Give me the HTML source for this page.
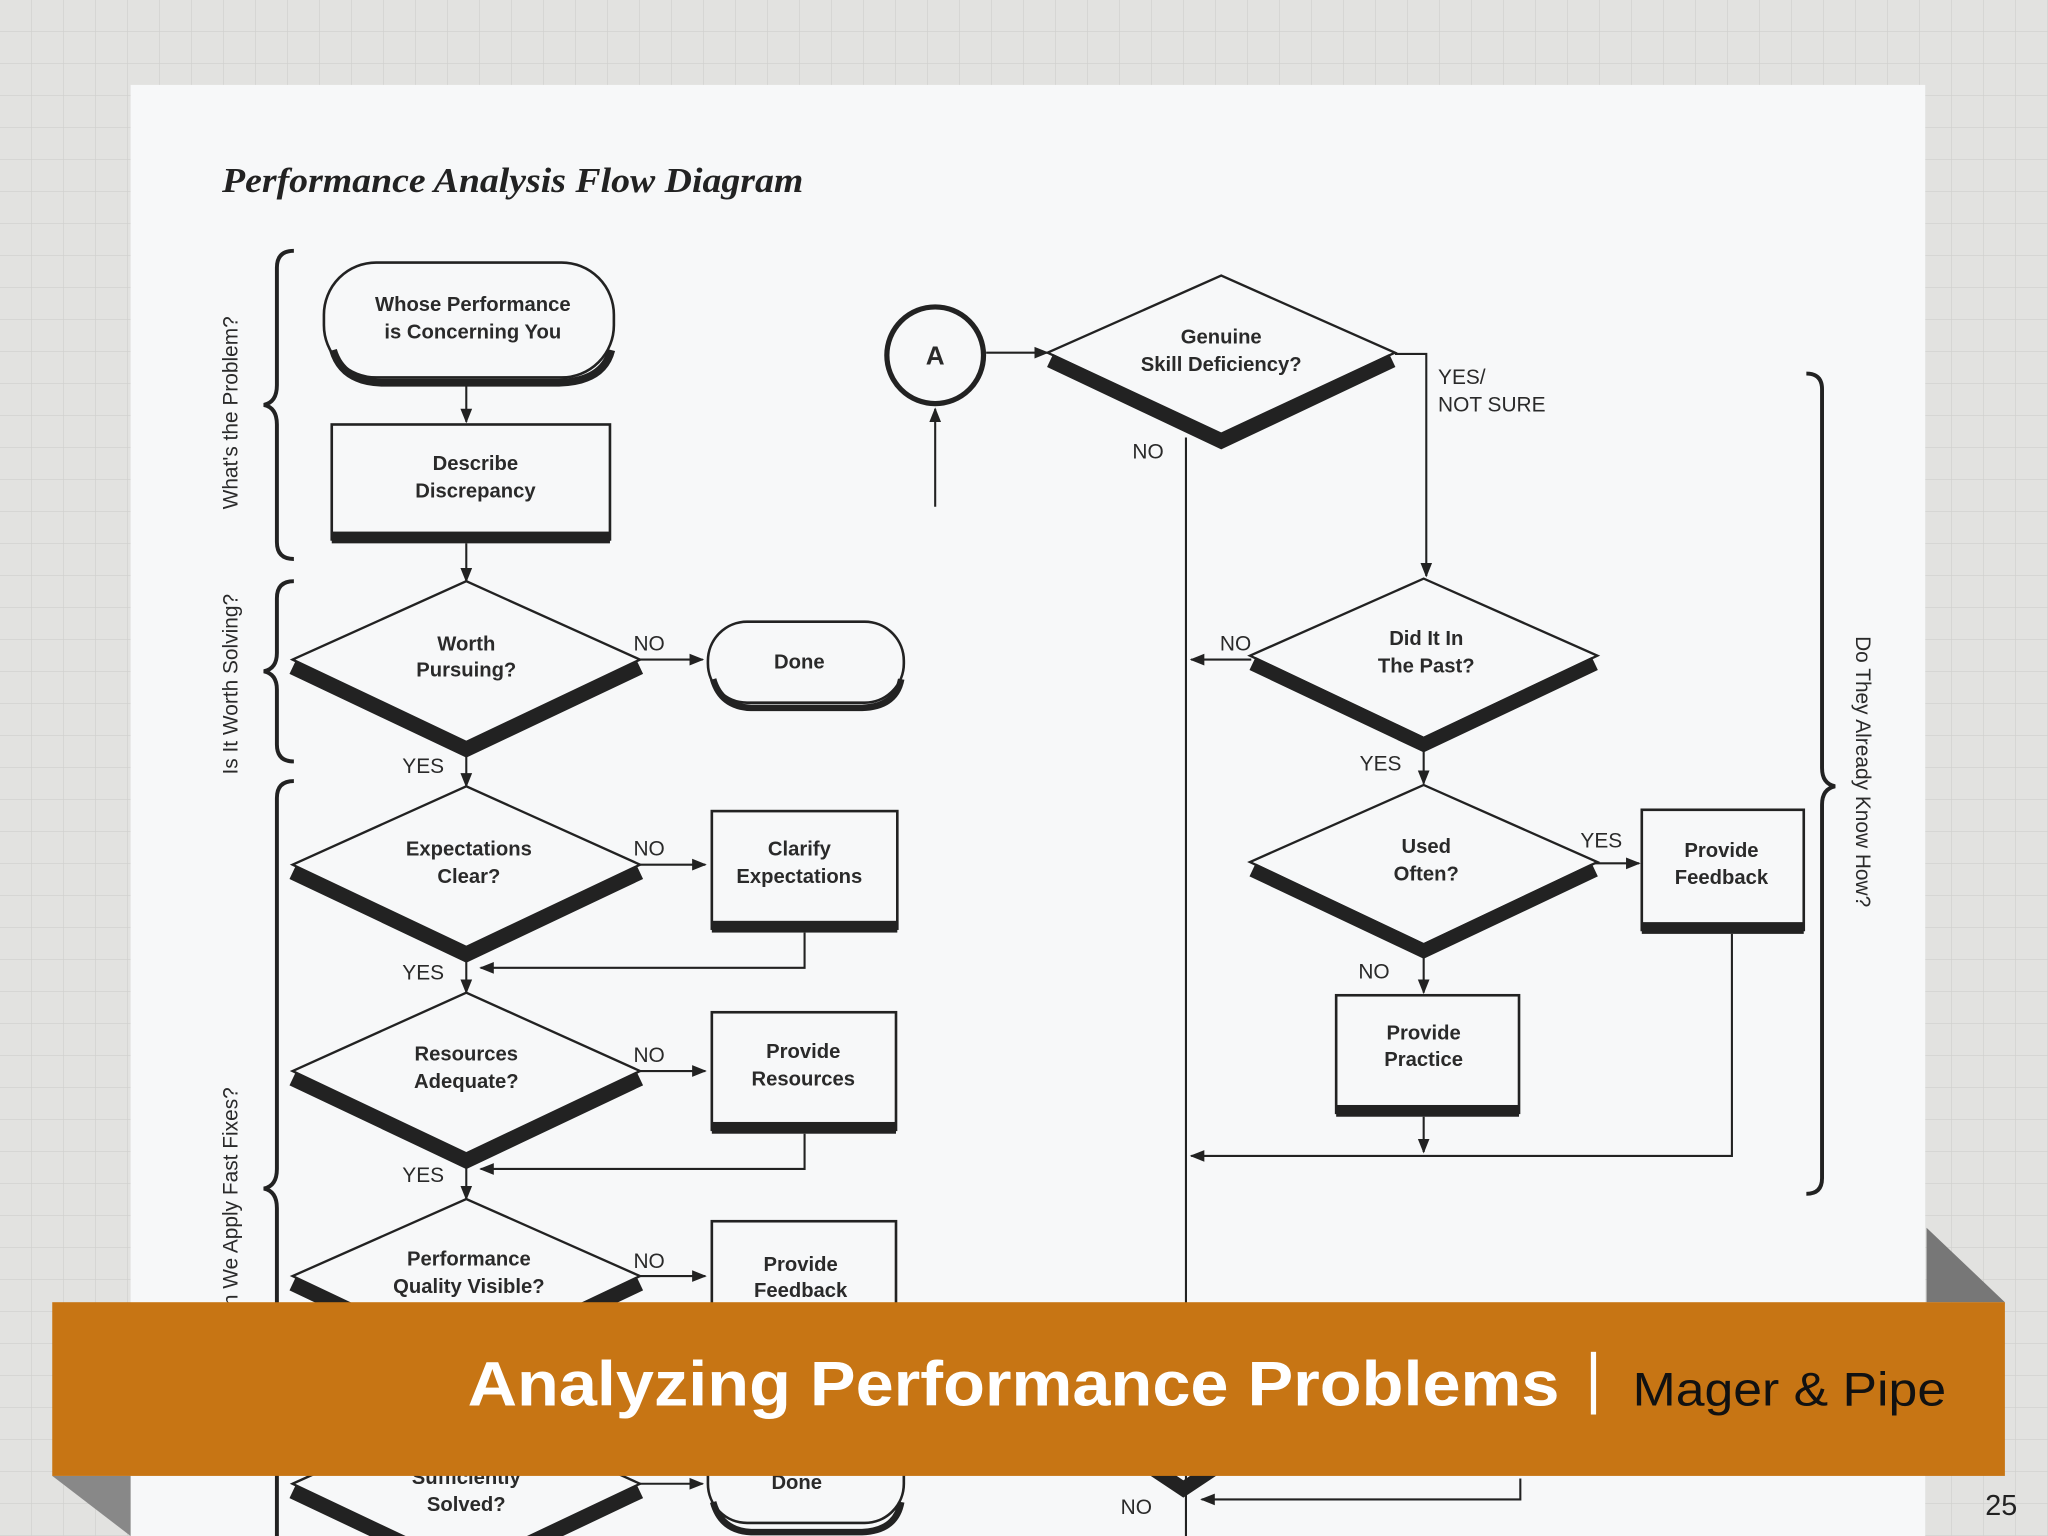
<!DOCTYPE html>
<html><head><meta charset="utf-8"><style>
html,body{margin:0;padding:0;width:2048px;height:1536px;overflow:hidden;background:#e4e4e2}
svg{display:block}
.t{font-family:"Liberation Sans",sans-serif;font-size:15.5px;fill:#2a2a2a;text-anchor:middle;font-weight:bold}
.l{font-family:"Liberation Sans",sans-serif;font-size:16px;fill:#2a2a2a}
</style></head><body>
<svg width="2048" height="1536" viewBox="0 0 1568 1176" xmlns="http://www.w3.org/2000/svg">
<defs>
<pattern id="g" width="24.5" height="24.5" patternUnits="userSpaceOnUse">
<rect width="24.5" height="24.5" fill="#e2e2e0"/>
<path d="M24.5 0V24.5H0" fill="none" stroke="#cfcfcd" stroke-width="1"/>
</pattern>
<marker id="a" viewBox="0 0 10 10" refX="9" refY="5" markerWidth="7" markerHeight="7" orient="auto"><path d="M0 1L10 5L0 9z" fill="#222"/></marker>
</defs>
<rect width="1568" height="1176" fill="url(#g)"/>
<rect x="100" y="65" width="1374" height="1111" fill="#f7f8f9"/>
<polygon points="1475,940 1535,997 1475,997" fill="#777"/>
<polygon points="40,1130 100,1176 100,1130" fill="#888"/>
<text x="170" y="147" font-family="Liberation Serif,serif" font-style="italic" font-weight="bold" font-size="27" fill="#222" textLength="445" lengthAdjust="spacingAndGlyphs">Performance Analysis Flow Diagram</text>

<g fill="none" stroke="#222" stroke-width="3">
<path d="M225 192 Q212 192 212 205 V295 Q212 308 202 310 Q212 312 212 325 V415 Q212 428 225 428"/>
<path d="M225 445 Q212 445 212 458 V500 Q212 512 202 514 Q212 516 212 528 V570 Q212 583 225 583"/>
<path d="M225 598 Q212 598 212 611 V895 Q212 908 202 910 Q212 912 212 925 V1176"/>
<path d="M1383 286 Q1395 286 1395 298 V588 Q1395 600 1405 602 Q1395 604 1395 616 V902 Q1395 914 1383 914"/>
</g>
<text class="l" transform="translate(182,390) rotate(-90)" font-size="15">What's the Problem?</text>
<text class="l" transform="translate(182,593) rotate(-90)" font-size="15">Is It Worth Solving?</text>
<text class="l" transform="translate(182,1000) rotate(-90)" font-size="15">n We Apply Fast Fixes?</text>
<text class="l" transform="translate(1421,487) rotate(90)" font-size="15">Do They Already Know How?</text>

<g stroke="#222" stroke-width="1.6" fill="none">
<line x1="357" y1="292" x2="357" y2="323" marker-end="url(#a)"/>
<line x1="357" y1="416" x2="357" y2="445" marker-end="url(#a)"/>
<line x1="357" y1="578" x2="357" y2="602" marker-end="url(#a)"/>
<line x1="357" y1="735" x2="357" y2="760" marker-end="url(#a)"/>
<line x1="357" y1="893" x2="357" y2="918" marker-end="url(#a)"/>
<line x1="490" y1="505" x2="538" y2="505" marker-end="url(#a)"/>
<line x1="490" y1="662" x2="540" y2="662" marker-end="url(#a)"/>
<line x1="490" y1="820" x2="540" y2="820" marker-end="url(#a)"/>
<line x1="490" y1="977" x2="540" y2="977" marker-end="url(#a)"/>
<line x1="490" y1="1136" x2="538" y2="1136" marker-end="url(#a)"/>
<path d="M616 714 V741 H368" marker-end="url(#a)"/>
<path d="M616 868 V895 H368" marker-end="url(#a)"/>
<line x1="716" y1="388" x2="716" y2="313" marker-end="url(#a)"/>
<line x1="755" y1="270" x2="802" y2="270" marker-end="url(#a)"/>
<path d="M1068 271 H1092 V441" marker-end="url(#a)"/>
<line x1="908" y1="335" x2="908" y2="1176"/>
<line x1="958" y1="505" x2="912" y2="505" marker-end="url(#a)"/>
<line x1="1090" y1="572" x2="1090" y2="600" marker-end="url(#a)"/>
<line x1="1090" y1="730" x2="1090" y2="760" marker-end="url(#a)"/>
<line x1="1194" y1="661" x2="1255" y2="661" marker-end="url(#a)"/>
<line x1="1090" y1="855" x2="1090" y2="882" marker-end="url(#a)"/>
<path d="M1326 715 V885 H912" marker-end="url(#a)"/>
<path d="M1164 1132 V1148 H920" marker-end="url(#a)"/>
</g>

<g stroke="#222" fill="#f7f8f9">
<rect x="248" y="201" width="222" height="88" rx="40" stroke-width="2"/>
<path d="M255 268 Q262 292 292 293 H428 Q462 292 468 268" fill="none" stroke-width="6"/>
<rect x="542" y="476" width="150" height="62" rx="30" stroke-width="2"/>
<path d="M546 520 Q552 541 575 542 H660 Q686 541 690 520" fill="none" stroke-width="5"/>
<rect x="542" y="1100" width="150" height="66" rx="30" stroke-width="2"/>
<path d="M546 1150 Q552 1172 575 1173 H660 Q686 1172 690 1150" fill="none" stroke-width="5"/>
<circle cx="716" cy="272" r="37" stroke-width="4"/>
</g>

<g stroke="#222" stroke-width="2" fill="#f7f8f9">
<rect x="254" y="325" width="213" height="88"/>
<rect x="545" y="621" width="142" height="90"/>
<rect x="545" y="775" width="141" height="90"/>
<rect x="545" y="935" width="141" height="90"/>
<rect x="1257" y="620" width="124" height="92"/>
<rect x="1023" y="762" width="140" height="90"/>
</g>
<g fill="#222">
<rect x="254" y="407" width="213" height="9"/>
<rect x="545" y="705" width="142" height="9"/>
<rect x="545" y="859" width="141" height="9"/>
<rect x="1257" y="706" width="124" height="9"/>
<rect x="1023" y="846" width="140" height="9"/>
</g>

<g stroke="#222" fill="#f7f8f9">
<polygon points="224,505 357,445 490,505 357,568" stroke-width="1.8"/>
<polyline points="224,511 357,574 490,511" fill="none" stroke-width="11"/>
<polygon points="224,662 357,602 490,662 357,725" stroke-width="1.8"/>
<polyline points="224,668 357,731 490,668" fill="none" stroke-width="11"/>
<polygon points="224,820 357,760 490,820 357,883" stroke-width="1.8"/>
<polyline points="224,826 357,889 490,826" fill="none" stroke-width="11"/>
<polygon points="224,977 357,918 490,977 357,1040" stroke-width="1.8"/>
<polyline points="224,983 357,1046 490,983" fill="none" stroke-width="11"/>
<polygon points="224,1136 357,1076 490,1136 357,1199" stroke-width="1.8"/>
<polyline points="224,1142 357,1205 490,1142" fill="none" stroke-width="11"/>
<polygon points="802,270 935,211 1068,270 935,332" stroke-width="1.8"/>
<polyline points="804,276 935,338 1066,276" fill="none" stroke-width="11"/>
<polygon points="957,502 1090,443 1223,502 1090,565" stroke-width="1.8"/>
<polyline points="959,508 1090,570 1221,508" fill="none" stroke-width="11"/>
<polygon points="957,660 1090,601 1223,660 1090,723" stroke-width="1.8"/>
<polyline points="959,666 1090,728 1221,666" fill="none" stroke-width="11"/>
<polyline points="876,1120 906,1140 936,1120" fill="none" stroke-width="11"/>
</g>

<g class="t">
<text x="362" y="238">Whose Performance</text><text x="362" y="259">is Concerning You</text>
<text x="364" y="360">Describe</text><text x="364" y="381">Discrepancy</text>
<text x="357" y="498">Worth</text><text x="357" y="518">Pursuing?</text>
<text x="612" y="512">Done</text>
<text x="359" y="655">Expectations</text><text x="359" y="676">Clear?</text>
<text x="612" y="655">Clarify</text><text x="612" y="676">Expectations</text>
<text x="357" y="812">Resources</text><text x="357" y="833">Adequate?</text>
<text x="615" y="810">Provide</text><text x="615" y="831">Resources</text>
<text x="359" y="969">Performance</text><text x="359" y="990">Quality Visible?</text>
<text x="613" y="973">Provide</text><text x="613" y="993">Feedback</text>
<text x="357" y="1136">Sufficiently</text>
<text x="357" y="1157">Solved?</text>
<text x="610" y="1140">Done</text>
<text x="716" y="279" font-size="20">A</text>
<text x="935" y="263">Genuine</text><text x="935" y="284">Skill Deficiency?</text>
<text x="1092" y="494">Did It In</text><text x="1092" y="515">The Past?</text>
<text x="1092" y="653">Used</text><text x="1092" y="674">Often?</text>
<text x="1318" y="656">Provide</text><text x="1318" y="677">Feedback</text>
<text x="1090" y="796">Provide</text><text x="1090" y="816">Practice</text>
</g>
<g class="l">
<text x="485" y="498">NO</text><text x="485" y="655">NO</text><text x="485" y="813">NO</text><text x="485" y="971">NO</text>
<text x="308" y="592">YES</text><text x="308" y="750">YES</text><text x="308" y="905">YES</text>
<text x="1101" y="294">YES/</text><text x="1101" y="315">NOT SURE</text>
<text x="867" y="351">NO</text><text x="934" y="498">NO</text>
<text x="1041" y="590">YES</text><text x="1210" y="649">YES</text><text x="1040" y="749">NO</text>
<text x="858" y="1159">NO</text>
</g>

<rect x="40" y="997" width="1495" height="133" fill="#c77514"/>
<text x="358" y="1076" font-family="Liberation Sans,sans-serif" font-weight="bold" font-size="48" fill="#fff" textLength="836" lengthAdjust="spacingAndGlyphs">Analyzing Performance Problems</text>
<rect x="1218" y="1035" width="4" height="48" fill="#fff"/>
<text x="1250" y="1076" font-family="Liberation Sans,sans-serif" font-size="36" fill="#111" textLength="240" lengthAdjust="spacingAndGlyphs">Mager &amp; Pipe</text>
<text x="1520" y="1160" font-family="Liberation Sans,sans-serif" font-size="22" fill="#222">25</text>
</svg>
</body></html>
